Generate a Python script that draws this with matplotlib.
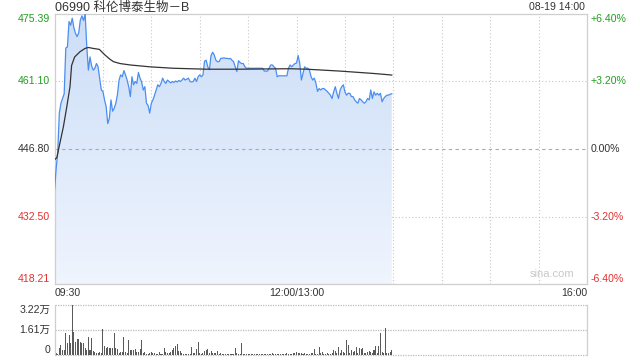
import numpy as np
import matplotlib
matplotlib.use("Agg")
import matplotlib.pyplot as plt
from matplotlib.patches import Polygon

plt.rcParams['font.family'] = ['Liberation Sans', 'Noto Sans CJK SC', 'DejaVu Sans']

# ---------------- data ----------------
title = "06990 科伦博泰生物－B"
stamp = "08-19 14:00"
prev_close = 446.80
price_ticks = [475.39, 461.10, 446.80, 432.50, 418.21]
pct_labels = ["+6.40%", "+3.20%", "0.00%", "-3.20%", "-6.40%"]
time_labels = ["09:30", "12:00/13:00", "16:00"]
time_label_minutes = [0, 150, 330]
session_minutes = 330
vol_ticks = [3.22, 1.61, 0]
vol_tick_labels = ["3.22万", "1.61万", "0"]

# minute-by-minute price from 09:30
price = [
    438.1, 442.5, 446.2, 454.4, 456.5, 457.5, 458.5, 468.2, 468.4, 473.8,
    473.0, 474.5, 472.5, 471.3, 470.6, 471.4, 474.1, 475.0, 474.0, 475.4,
    468.5, 463.5, 466.3, 464.4, 463.5, 463.9, 464.9, 464.2, 461.8, 459.3,
    459.0, 457.2, 455.8, 452.2, 453.3, 457.2, 454.8, 455.4, 456.5, 458.3,
    461.4, 462.5, 462.1, 463.4, 462.5, 461.4, 460.0, 457.9, 462.1, 460.4,
    461.1, 460.7, 463.0, 461.8, 461.0, 459.3, 460.0, 456.5, 456.0, 454.4,
    456.5, 457.2, 458.2, 459.3, 460.4, 460.0, 460.7, 461.8, 461.1, 460.7,
    461.4, 461.1, 460.8, 461.1, 460.9, 461.2, 461.0, 461.3, 461.1, 461.4,
    461.8, 461.4, 461.6, 461.8, 461.1, 461.0, 461.1, 461.8, 461.1, 462.1,
    462.5, 462.1, 462.5, 465.4, 465.6, 464.2, 463.6, 466.6, 467.3, 466.7,
    465.6, 465.3, 465.3, 466.0, 466.0, 466.1, 466.0, 466.0, 465.9, 466.0,
    465.6, 465.3, 464.2, 463.2, 465.5, 465.1, 464.9, 464.9, 464.2, 463.9,
    463.9, 463.9, 463.9, 463.9, 463.9, 463.9, 463.9, 463.9, 463.9, 463.9,
    463.3, 463.3, 463.3, 463.9, 464.6, 464.6, 464.2, 463.9, 462.1, 462.3,
    462.3, 462.3, 462.3, 462.3, 462.3, 463.9, 464.6, 464.2, 464.6, 464.9,
    465.0, 466.6, 464.9, 461.4, 462.8, 464.2, 463.9, 463.9, 463.5, 462.1,
    461.4, 461.8, 460.7, 459.0, 459.6, 459.3, 459.6, 459.6, 459.3, 459.0,
    458.6, 458.2, 457.5, 458.9, 460.0, 458.6, 457.5, 459.3, 460.0, 460.4,
    458.9, 458.2, 458.6, 458.6, 457.9, 457.9, 457.2, 456.8, 456.5, 457.5,
    457.2, 456.8, 456.5, 456.8, 457.5, 457.2, 459.3, 457.5, 458.9, 458.2,
    458.6, 458.2, 458.6, 456.8, 457.5, 457.9, 458.2, 458.2, 458.4, 458.5,
]

# average price line (minute, value)
avg_minutes = [0, 1.5, 3, 5.5, 7.5, 9.6, 10.6, 12.5, 15.8, 18.9, 21, 24, 27.8, 31.3,
               34.4, 36.5, 40.6, 46.8, 59.2, 73.6, 94.3, 115, 145.9, 156.3, 176.9,
               197.6, 207.9, 209]
avg_values = [444.5, 445.0, 447.5, 451.5, 455.5, 460.0, 464.5, 466.3, 467.4, 468.1,
              468.3, 468.1, 467.9, 466.7, 465.8, 465.3, 464.9, 464.6, 464.2, 463.9,
              463.7, 463.7, 463.8, 463.7, 463.3, 462.8, 462.5, 462.45]

# minute volume (万)
volume = [
    0.43, 0.11, 0.06, 0.43, 0.64, 0.32, 0.32, 1.40, 0.75, 1.29,
    0.75, 3.22, 1.50, 0.86, 1.01, 1.01, 0.86, 0.75, 0.75, 0.43,
    0.32, 1.14, 0.32, 1.07, 0.28, 0.21, 0.15, 0.15, 0.21, 0.11,
    1.65, 0.58, 0.43, 0.49, 0.43, 0.47, 0.43, 1.40, 0.43, 0.37,
    0.15, 0.21, 0.17, 1.14, 0.21, 0.11, 0.97, 0.32, 0.32, 0.32,
    0.37, 0.17, 0.21, 0.37, 0.97, 0.15, 0.21, 0.06, 0.06, 0.15,
    0.21, 0.11, 0.11, 0.06, 0.06, 0.21, 0.06, 0.06, 0.43, 0.21,
    0.15, 0.11, 0.21, 0.32,
    0.43, 0.58, 0.71, 0.28, 0.28, 0.11, 0.04, 0.06, 0.04, 0.06,
    0.06, 0.49, 0.11, 0.11, 0.37, 0.82, 0.11, 0.04, 0.15, 0.28,
    0.32, 0.37, 0.15, 0.26, 0.11, 0.11, 0.11, 0.24, 0.06, 0.11,
    0.06, 0.04, 0.04, 0.04, 0.06, 0.04, 0.06, 0.06, 0.43, 0.11,
    0.06, 0.06, 0.75, 0.06,
    0.06, 0.04, 0.06, 0.04, 0.06, 0.06, 0.04, 0.06, 0.04, 0.06,
    0.04, 0.06, 0.06, 0.04, 0.06, 0.04, 0.06, 0.15, 0.06, 0.04,
    0.06, 0.04, 0.06, 0.04, 0.06, 0.04, 0.11, 0.06, 0.04,
    0.06, 0.11, 0.15, 0.21, 0.15, 0.11, 0.11, 0.06, 0.11, 0.06,
    0.06, 0.06, 0.11, 0.11, 0.37, 0.06, 0.06, 0.49, 0.11, 0.21,
    0.06, 0.06, 0.11, 0.06, 0.06, 0.11, 0.32, 0.26, 0.15, 0.49,
    0.15, 0.32, 0.21, 0.15, 0.97, 0.64, 0.15, 0.32, 0.21, 0.28,
    0.54, 0.15, 0.43, 0.37, 0.43, 0.11, 0.15, 0.21, 0.26, 0.17,
    0.15, 0.32, 0.58, 0.11, 0.58, 1.44, 0.21, 0.11, 1.72, 0.11,
    0.11, 0.21, 0.32,
]

# ---------------- style ----------------
GREEN = '#1f9e1f'
RED = '#e53030'
DARK = '#333333'
LINE = '#4b8ef0'
GRID = '#c8c8c8'
SPINE = '#cfcfcf'
FS = 7.6

fig = plt.figure(figsize=(6.4, 3.6), dpi=100)
W, H = 640.0, 360.0
ax = fig.add_axes([54.5 / W, 1 - 284 / H, 532.5 / W, 270 / H])
axv = fig.add_axes([54.5 / W, 1 - 355 / H, 532.5 / W, 50 / H])

ymin, ymax = price_ticks[-1], price_ticks[0]
ax.set_xlim(0, session_minutes)
ax.set_ylim(ymin, ymax)

x = np.arange(len(price))
p = np.array(price)

# gradient fill under price line
verts = [(x[0], ymin)] + list(zip(x, p)) + [(x[-1], ymin)]
poly = Polygon(verts, closed=True, facecolor='none', edgecolor='none')
ax.add_patch(poly)
grad = np.linspace(0, 1, 256).reshape(-1, 1)
top_c = np.array([0.80, 0.87, 0.97])
bot_c = np.array([0.94, 0.96, 0.995])
img = top_c[None, None, :] * (1 - grad[:, :, None]) + bot_c[None, None, :] * grad[:, :, None]
im = ax.imshow(img, extent=[0, session_minutes, ymin, ymax], aspect='auto',
               origin='upper', zorder=1)
im.set_clip_path(poly)

# grid
for m in range(30, session_minutes, 30):
    ax.axvline(m, color=GRID, lw=0.8, ls=(0, (1, 2)), zorder=0.5)
for v in (price_ticks[1], price_ticks[3]):
    ax.axhline(v, color=GRID, lw=0.8, ls=(0, (1, 2)), zorder=0.5)
ax.axhline(prev_close, color='#aaaaaa', lw=0.8, ls=(0, (3, 3)), zorder=2.5)

ax.plot(x, p, color=LINE, lw=0.9, zorder=3)
ax.plot(avg_minutes, avg_values, color=DARK, lw=0.9, zorder=3.5)

ax.set_xticks([])
ax.set_yticks([])
for s in ax.spines.values():
    s.set_color(SPINE)
    s.set_linewidth(0.9)

colors = [GREEN, GREEN, DARK, RED, RED]
vas = ['top', 'center', 'center', 'center', 'bottom']
trans = ax.get_yaxis_transform()
for v, lab, pl, c, va in zip(price_ticks, [f"{t:.2f}" for t in price_ticks], pct_labels, colors, vas):
    ax.text(-0.008, v, lab, transform=trans, ha='right', va=va, color=c, fontsize=FS)
    ax.text(1.0066, v, pl, transform=trans, ha='left', va=va, color=c, fontsize=FS)

ax.text(0.934, 0.02, "sina.com", transform=ax.transAxes, ha='center', va='bottom',
        color='#c8c8c8', fontsize=8)

fig.text(55 / W, 1 - 7.5 / H, title, ha='left', va='center', color=DARK, fontsize=9)
fig.text(585 / W, 1 - 7.5 / H, stamp, ha='right', va='center', color=DARK, fontsize=FS)

# time labels
for m, lab in zip(time_label_minutes, time_labels):
    ha = 'left' if m == 0 else ('right' if m == session_minutes else 'center')
    ax.text(m, -0.033, lab, transform=ax.get_xaxis_transform(), ha=ha, va='center',
            color=DARK, fontsize=FS)

# volume
axv.set_xlim(0, session_minutes)
axv.set_ylim(0, vol_ticks[0])
xv = np.arange(len(volume))
axv.bar(xv, volume, width=0.62, color='#5a5a5a', zorder=2)
for v in vol_ticks:
    axv.axhline(v, color='#bbbbbb', lw=0.9, ls=(0, (1, 1)), zorder=1, clip_on=False)
axv.set_xticks([])
axv.set_yticks([])
for k, s in axv.spines.items():
    if k in ('top', 'bottom'):
        s.set_visible(False)
    else:
        s.set_color(SPINE)
        s.set_linewidth(0.9)
vvas = ['top', 'center', 'bottom']
for v, lab, va in zip(vol_ticks, vol_tick_labels, vvas):
    axv.text(-0.008, v, lab, transform=axv.get_yaxis_transform(), ha='right', va=va,
             color=DARK, fontsize=FS)

fig.savefig("out.png", dpi=100)
